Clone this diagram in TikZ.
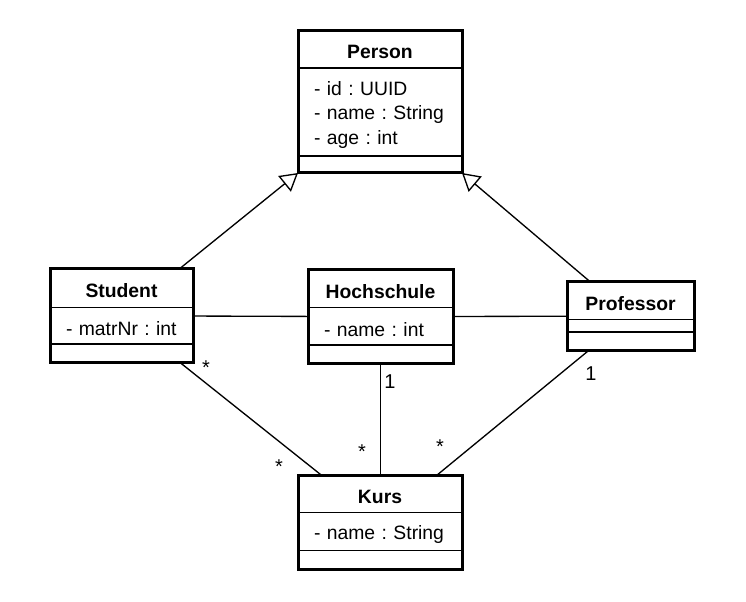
\documentclass[tikz,border=0pt]{standalone}
\usepackage{fontspec}
\setmainfont{Liberation Sans}
\usetikzlibrary{arrows.meta,positioning,fit}
\newcommand{\umlfont}{\fontsize{14.5}{18.4}\selectfont\frenchspacing}

\begin{document}
\begin{tikzpicture}[
  x=0.75pt,y=-0.75pt,
  font=\umlfont,
  head/.style={draw,line width=1pt,font=\umlfont\bfseries,inner sep=0pt,outer sep=0pt,
    text height=14pt,text depth=0pt,anchor=north west},
  attr/.style={draw,line width=1pt,inner xsep=12pt,inner ysep=0pt,outer sep=0pt,align=left,
    execute at begin node={\rule{0pt}{15pt}}},
  ops/.style={draw,line width=1pt,inner sep=0pt,outer sep=0pt},
  frame/.style={draw,line width=2.25pt,inner sep=0pt,outer sep=0pt},
  gen/.style={-{Triangle[open,length=13pt,width=15pt]},line width=1pt},
  assoc/.style={line width=1pt},
  mult/.style={font=\fontsize{15}{16}\selectfont,inner sep=0pt}
]
  \useasboundingbox (0,0) rectangle (746,602);

  % Person
  \node[head,minimum width=123pt,minimum height=27.75pt] (personHead) at (298,31) {Person};
  \node[attr,text width=99pt,minimum height=66pt,below=0pt of personHead] (personAttr) {- id : UUID\\- name : String\\- age : int};
  \node[ops,minimum width=123pt,minimum height=12.75pt,below=0pt of personAttr] (personOps) {};
  \node[frame,fit=(personHead)(personOps)] (person) {};

  % Student
  \node[head,minimum width=107.25pt,minimum height=28.9pt] (studentHead) at (50,269) {Student};
  \node[attr,text width=83.25pt,minimum height=27.4pt,below=0pt of studentHead] (studentAttr) {- matrNr : int};
  \node[ops,minimum width=107.25pt,minimum height=13.9pt,below=0pt of studentAttr] (studentOps) {};
  \node[frame,fit=(studentHead)(studentOps)] (student) {};

  % Hochschule
  \node[head,minimum width=108.75pt,minimum height=28.3pt] (hsHead) at (308,270) {Hochschule};
  \node[attr,text width=84.75pt,minimum height=28pt,below=0pt of hsHead] (hsAttr) {- name : int};
  \node[ops,minimum width=108.75pt,minimum height=13.7pt,below=0pt of hsAttr] (hsOps) {};
  \node[frame,fit=(hsHead)(hsOps)] (hochschule) {};

  % Professor
  \node[head,minimum width=95.25pt,minimum height=28.1pt] (profHead) at (567,282) {Professor};
  \node[ops,minimum width=95.25pt,minimum height=9.5pt,below=0pt of profHead] (profAttr) {};
  \node[ops,minimum width=95.25pt,minimum height=13.5pt,below=0pt of profAttr] (profOps) {};
  \node[frame,fit=(profHead)(profOps)] (professor) {};

  % Kurs
  \node[head,minimum width=123pt,minimum height=28.3pt] (kursHead) at (298,475) {Kurs};
  \node[attr,text width=99pt,minimum height=28.5pt,below=0pt of kursHead] (kursAttr) {- name : String};
  \node[ops,minimum width=123pt,minimum height=13.7pt,below=0pt of kursAttr] (kursOps) {};
  \node[frame,fit=(kursHead)(kursOps)] (kurs) {};

  % generalisation
  \draw[gen] (student) -- (person.south west);
  \draw[gen] (professor) -- (person.south east);

  % associations
  \draw[assoc] (student) -- (hochschule);
  \draw[assoc] (hochschule) -- (professor);
  \draw[assoc] (student) -- (kurs);
  \draw[assoc] (hochschule) -- (hochschule |- kurs.north);
  \draw[assoc] (professor) -- (kurs);

  % multiplicities
  \node[mult] (mStudent) at (206,368) {*};
  \node[mult] (mKursS) at (279,467) {*};
  \node[mult] (mHs) at (390,382) {1};
  \node[mult] (mKursH) at (362,452) {*};
  \node[mult] (mKursP) at (440,447) {*};
  \node[mult] (mProf) at (591,374) {1};
\end{tikzpicture}
\end{document}
